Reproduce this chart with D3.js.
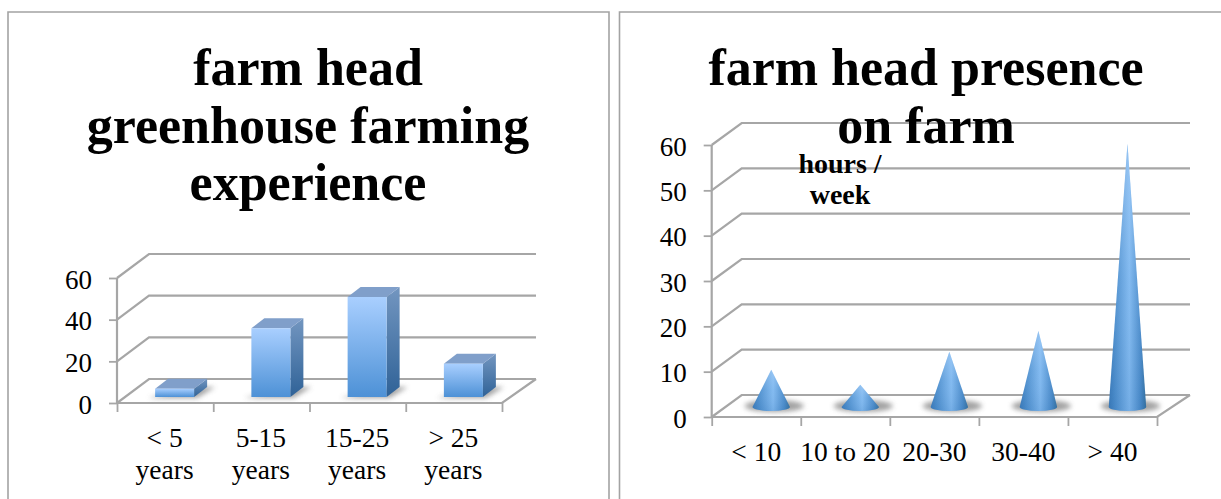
<!DOCTYPE html>
<html>
<head>
<meta charset="utf-8">
<script src="https://cdn.jsdelivr.net/npm/d3@7"></script>
<style>
html,body{margin:0;padding:0;background:#fff;overflow:hidden}
text{font-family:"Liberation Serif",serif;fill:#000}
.title{font-size:52px;font-weight:bold;text-anchor:middle}
.note{font-size:28px;font-weight:bold;text-anchor:middle}
.lab{font-size:27.5px;text-anchor:middle}
.tick text{font-size:27px;font-family:"Liberation Serif",serif;fill:#000}
</style>
</head>
<body>
<svg id="c" width="1221" height="499" xmlns="http://www.w3.org/2000/svg"></svg>
<script>
const expCategories = [["< 5","years"],["5-15","years"],["15-25","years"],["> 25","years"]];
const expValues = [4,33,48,16];
const expTicks = [0,20,40,60];
const expTitle = ["farm head","greenhouse farming","experience"];

const presCategories = ["< 10","10 to 20","20-30","30-40","> 40"];
const presValues = [8.2,4.9,12.2,16.8,58.2];
const presTicks = [0,10,20,30,40,50,60];
const presTitle = ["farm head presence","on farm"];
const presNote = ["hours /","week"];

const GRID = "#a6a6a6";
const svg = d3.select("#c");
const defs = svg.append("defs");

function grad(id, dir, stops){
  const g = defs.append("linearGradient").attr("id",id)
    .attr("x1",0).attr("y1",0)
    .attr("x2",dir==="h"?1:0).attr("y2",dir==="h"?0:1);
  stops.forEach(s=>{
    const st = g.append("stop").attr("offset",s[0]).attr("stop-color",s[1]);
    if(s[2]!==undefined) st.attr("stop-opacity",s[2]);
  });
}
grad("barFront","v",[[0,"#a9cfff"],[1,"#4d91d6"]]);
grad("barSide","v",[[0,"#7396c0"],[1,"#2f6297"]]);
grad("coneH","h",[[0,"#3a7ab9"],[0.15,"#4a8ccb"],[0.55,"#80b9f0"],[0.85,"#4a8bca"],[1,"#34709f"]]);
grad("coneV","v",[[0,"#cfe4ff",0.3],[0.5,"#cfe4ff",0.05],[1,"#1f5c9c",0.12]]);
defs.append("filter").attr("id","soft").attr("x","-30%").attr("y","-100%").attr("width","160%").attr("height","300%")
  .append("feGaussianBlur").attr("stdDeviation",2.6);
defs.append("filter").attr("id","aa").append("feGaussianBlur").attr("stdDeviation",0.35);

// panels
[[8,12,601],[619.5,12,640]].forEach(p=>{
  svg.append("path")
    .attr("d",d3.line()([[p[0],502],[p[0],p[1]],[p[0]+p[2],p[1]],[p[0]+p[2],502]]))
    .attr("fill","none").attr("stroke","#a3a3a3").attr("stroke-width",1.6);
});

function frame(g, cfg, ticks){
  const {y,x0,x1,xEnd,dx,dy,n} = cfg;
  const lineG = g.append("g").attr("filter","url(#aa)");
  const line = d3.line();
  const y0 = y(0);
  const gridPts = ticks.map(t=>[[x0,y(t)],[x0+dx,y(t)-dy],[xEnd,y(t)-dy]]);
  lineG.selectAll("path.grid").data(gridPts).join("path").attr("class","grid")
    .attr("d",d=>line(d)).attr("fill","none").attr("stroke",GRID).attr("stroke-width",2.2);
  lineG.append("path").attr("d",line([[x0,y(ticks[ticks.length-1])],[x0,y0],[x1,y0],[xEnd,y0-dy]]))
    .attr("fill","none").attr("stroke",GRID).attr("stroke-width",2.2);

  const yAxis = d3.axisLeft(y).tickValues(ticks).tickSize(8).tickPadding(17).tickFormat(d3.format("d"));
  const ya = g.append("g").attr("transform",`translate(${x0},0)`).call(yAxis);
  ya.select(".domain").remove();
  ya.selectAll("line").attr("stroke",GRID).attr("stroke-width",1.8);
  ya.selectAll("text").attr("dy","0.38em");
  const xi = d3.scaleLinear().domain([0,n]).range([x0,x1]);
  const xa = g.append("g").attr("transform",`translate(0,${y0})`)
    .call(d3.axisBottom(xi).tickValues(d3.range(n+1)).tickSize(9).tickFormat(""));
  xa.select(".domain").remove();
  xa.selectAll("line").attr("stroke",GRID).attr("stroke-width",1.8);
}

// LEFT
{
  const g = svg.append("g");
  const cfg = {x0:117,x1:502,xEnd:536,dx:32,dy:24,n:expValues.length,
    y:d3.scaleLinear().domain([0,60]).range([403,278])};
  frame(g,cfg,expTicks);
  const band = d3.scaleBand().domain(d3.range(expValues.length)).range([cfg.x0,cfg.x1]);
  const px = cfg.y(0)-cfg.y(1);
  const baseY = 397, w = 39, ox = 10, dw = 13, dh = 10;
  const bars = g.selectAll("g.bar").data(expValues).join("g").attr("class","bar");
  const left = i => band(i)+band.bandwidth()/2-ox;
  bars.append("path").attr("filter","url(#soft)").attr("fill","#8d8d8d").attr("opacity",.8)
    .attr("d",(d,i)=>{const l=left(i);return d3.line()([[l-7,baseY+1],[l+w+3,baseY+1],[l+w+21,baseY-10],[l+w,baseY-10]]);});
  bars.append("path").attr("fill","url(#barSide)")
    .attr("d",(d,i)=>{const l=left(i)+w,t=baseY-d*px;return d3.line()([[l,t],[l+dw,t-dh],[l+dw,baseY-dh],[l,baseY]])+"Z";});
  bars.append("path").attr("fill","#809fca")
    .attr("d",(d,i)=>{const l=left(i),t=baseY-d*px;return d3.line()([[l,t],[l+dw,t-dh],[l+w+dw,t-dh],[l+w,t]])+"Z";});
  bars.append("rect").attr("fill","url(#barFront)")
    .attr("x",(d,i)=>left(i)).attr("width",w)
    .attr("y",d=>baseY-d*px).attr("height",d=>d*px);
  g.selectAll("text.lab").data(expCategories).join("text").attr("class","lab")
    .attr("transform",(d,i)=>`translate(${band(i)+band.bandwidth()/2-0.5},447)`)
    .each(function(d){
      d3.select(this).selectAll("tspan").data(d).join("tspan").attr("x",0).attr("y",(t,j)=>j*31.5).text(t=>t);
    });
  g.selectAll("text.title").data(expTitle).join("text").attr("class","title")
    .attr("x",308).attr("y",(d,i)=>85+i*57.5).text(d=>d);
}

// RIGHT
{
  const g = svg.append("g");
  const cfg = {x0:711.7,x1:1157,xEnd:1190,dx:30,dy:22,n:presValues.length,
    y:d3.scaleLinear().domain([0,60]).range([417,145])};
  frame(g,cfg,presTicks);
  const band = d3.scaleBand().domain(d3.range(presValues.length)).range([cfg.x0,cfg.x1]);
  const px = cfg.y(0)-cfg.y(1);
  const baseY = 407, r = 18.7, ry = 4, off = 15;
  const cx = i => band(i)+band.bandwidth()/2+off;
  const cones = g.selectAll("g.cone").data(presValues).join("g").attr("class","cone");
  cones.append("ellipse").attr("filter","url(#soft)").attr("fill","#8a8a8a").attr("opacity",.8)
    .attr("cx",(d,i)=>cx(i)+3).attr("cy",baseY-1).attr("rx",r+11).attr("ry",6);
  const conePath = (d,i)=>{
    const c=cx(i),t=baseY-d*px;
    return `M${c-r},${baseY}L${c},${t}L${c+r},${baseY}A${r},${ry} 0 0 1 ${c-r},${baseY}Z`;
  };
  cones.append("path").attr("fill","url(#coneH)").attr("d",conePath);
  cones.append("path").attr("fill","url(#coneV)").attr("d",conePath);
  g.selectAll("text.lab").data(presCategories).join("text").attr("class","lab")
    .attr("x",(d,i)=>band(i)+band.bandwidth()/2).attr("y",461).text(d=>d);
  g.selectAll("text.note").data(presNote).join("text").attr("class","note")
    .attr("x",840).attr("y",(d,i)=>173+i*31).text(d=>d);
  g.selectAll("text.title").data(presTitle).join("text").attr("class","title")
    .attr("x",926).attr("y",(d,i)=>85+i*57.5).text(d=>d);
}
</script>
</body>
</html>
